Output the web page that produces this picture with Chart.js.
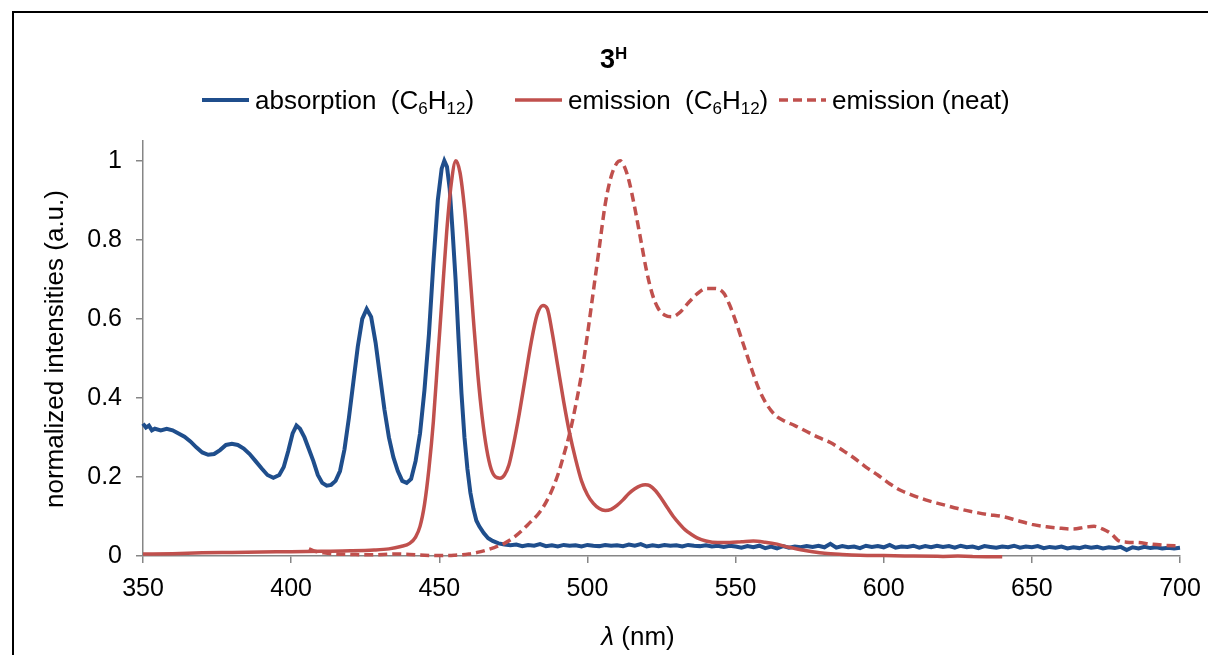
<!DOCTYPE html>
<html>
<head>
<meta charset="utf-8">
<title>3H spectra</title>
<script src="https://cdn.jsdelivr.net/npm/chart.js@4.4.1/dist/chart.umd.min.js"></script>
<style>
  html, body { margin: 0; padding: 0; background: #fff; }
  canvas { display: block; }
</style>
</head>
<body>
<canvas id="spectra" width="1208" height="655"></canvas>
<script>
// absorption in cyclohexane (nm, normalized)
const absX = [350, 351, 352, 353, 354, 356, 358, 360, 362, 364, 366, 368, 370, 372, 374, 376, 378, 380, 382, 384,
  386, 388, 390, 392, 394, 396, 397.5, 399, 400.5, 401.8, 403, 404.5, 406, 407.5, 409, 410.5, 412, 413.5, 415, 416.5,
  418, 419.5, 421, 422.5, 424, 425.5, 427, 428.5, 430, 431.5, 433, 434.5, 436, 437.5, 439, 440.5, 442, 443.5, 445, 446.5,
  448, 449.5, 450.8, 451.7, 452.6, 453.5, 454.5, 455.5, 456.5, 457.5, 458.5, 459.5, 460.5, 461.5, 462.5, 463.5, 465, 466.5, 468, 470,
  472, 474, 476, 478, 480, 482, 484, 486, 488, 490, 492, 494, 496, 498, 500, 502, 504, 506, 508, 510,
  512, 514, 516, 518, 520, 522, 524, 526, 528, 530, 532, 534, 536, 538, 540, 542, 544, 546, 548, 550,
  552, 554, 556, 558, 560, 562, 564, 566, 568, 570, 572, 574, 576, 578, 580, 582, 584, 586, 588, 590,
  592, 594, 596, 598, 600, 602, 604, 606, 608, 610, 612, 614, 616, 618, 620, 622, 624, 626, 628, 630,
  632, 634, 636, 638, 640, 642, 644, 646, 648, 650, 652, 654, 656, 658, 660, 662, 664, 666, 668, 670,
  672, 674, 676, 678, 680, 682, 684, 686, 688, 690, 692, 694, 696, 698, 700];
const absY = [0.335, 0.325, 0.33, 0.318, 0.322, 0.318, 0.322, 0.318, 0.31, 0.302, 0.29, 0.275, 0.262, 0.256, 0.258, 0.268, 0.281, 0.284, 0.281, 0.272,
  0.258, 0.24, 0.222, 0.205, 0.198, 0.205, 0.225, 0.265, 0.31, 0.33, 0.322, 0.3, 0.27, 0.24, 0.205, 0.185, 0.178, 0.18, 0.19, 0.215,
  0.27, 0.35, 0.44, 0.53, 0.6, 0.625, 0.605, 0.54, 0.455, 0.37, 0.3, 0.25, 0.215, 0.19, 0.185, 0.195, 0.24, 0.31, 0.42, 0.56,
  0.74, 0.9, 0.98, 1.0, 0.985, 0.93, 0.82, 0.7, 0.55, 0.41, 0.3, 0.22, 0.16, 0.12, 0.09, 0.075, 0.058, 0.045, 0.038, 0.032,
  0.029, 0.027, 0.029, 0.025, 0.028, 0.026, 0.03, 0.025, 0.027, 0.024, 0.028, 0.026, 0.027, 0.024, 0.028, 0.026, 0.025, 0.028, 0.026, 0.027,
  0.025, 0.029, 0.026, 0.03, 0.024, 0.027, 0.025, 0.028, 0.026, 0.027, 0.024, 0.028, 0.026, 0.025, 0.027, 0.024, 0.026, 0.023, 0.026, 0.024,
  0.021, 0.025, 0.022, 0.026, 0.02, 0.024, 0.019, 0.025, 0.021, 0.024, 0.022, 0.025, 0.023, 0.026, 0.022, 0.031, 0.021, 0.025, 0.022, 0.024,
  0.02, 0.026, 0.023, 0.025, 0.022, 0.028, 0.021, 0.024, 0.023, 0.026, 0.021, 0.025, 0.022, 0.026, 0.023, 0.025, 0.021, 0.026, 0.022, 0.024,
  0.02, 0.025, 0.023, 0.021, 0.024, 0.022, 0.026, 0.021, 0.024, 0.022, 0.025, 0.02, 0.023, 0.021, 0.024, 0.019, 0.022, 0.02, 0.024, 0.021,
  0.023, 0.019, 0.022, 0.02, 0.023, 0.015, 0.022, 0.019, 0.023, 0.02, 0.022, 0.019, 0.021, 0.019, 0.021];

// emission in cyclohexane
const emCX = [350, 360, 370, 380, 390, 400, 410, 420, 428, 433, 437, 440, 442, 443.5, 445, 446.5, 448, 449.5, 451, 452.5,
  454, 455.6, 457, 458.5, 460, 461.5, 463, 464.5, 466, 467.5, 469, 470.5, 472, 473.5, 475, 477, 479, 481, 483, 485,
  486.5, 488, 490, 492, 494, 496, 498, 500, 502, 504, 506, 508, 510, 512, 514, 516, 518, 519.5, 521, 523,
  525, 527, 529, 531, 533, 535, 537, 540, 544, 548, 552, 556, 560, 564, 568, 572, 576, 580, 586, 592,
  600, 610, 620, 630, 640];
const emCY = [0.005, 0.006, 0.008, 0.009, 0.01, 0.011, 0.012, 0.013, 0.015, 0.018, 0.024, 0.032, 0.048, 0.075, 0.13, 0.22, 0.34, 0.5, 0.66, 0.82,
  0.94, 1.0, 0.97, 0.88, 0.75, 0.6, 0.46, 0.35, 0.27, 0.22, 0.2, 0.197, 0.205, 0.23, 0.28, 0.36, 0.45, 0.54, 0.61, 0.634,
  0.625, 0.57, 0.48, 0.39, 0.31, 0.245, 0.19, 0.155, 0.133, 0.12, 0.115, 0.118, 0.128, 0.142, 0.158, 0.17, 0.178, 0.18, 0.178, 0.165,
  0.145, 0.122, 0.1, 0.082, 0.066, 0.055, 0.046, 0.038, 0.034, 0.034, 0.036, 0.038, 0.035, 0.03, 0.022, 0.016, 0.011, 0.007, 0.004, 0.002,
  0.001, 0.0, -0.001, -0.001, -0.002];

// emission of the neat sample
const emNX = [406, 408, 411, 415, 420, 427, 435, 440, 445, 450, 455, 460, 464, 468, 472, 476, 480, 484, 487, 490,
  492, 494, 496, 498, 500, 502, 504, 506, 508, 510, 511, 512.5, 514, 516, 518, 520, 522, 524, 526, 528.5,
  531, 534, 537, 540, 543, 546, 548, 550, 552, 554, 556, 558, 560, 562, 564, 567, 570, 574, 578, 582,
  586, 590, 594, 598, 602, 606, 610, 615, 620, 625, 630, 635, 640, 645, 650, 655, 660, 664, 668, 671,
  674, 677, 679, 682, 686, 690, 695, 700];
const emNY = [0.018, 0.012, 0.008, 0.005, 0.004, 0.003, 0.005, 0.004, 0.002, 0.001, 0.002, 0.005, 0.011, 0.02, 0.032, 0.052, 0.08, 0.112, 0.15, 0.205,
  0.255, 0.31, 0.38, 0.46, 0.56, 0.67, 0.78, 0.89, 0.96, 0.995, 1.0, 0.985, 0.95, 0.88, 0.8, 0.72, 0.66, 0.625, 0.61, 0.605,
  0.615, 0.64, 0.663, 0.677, 0.677, 0.665, 0.635, 0.595, 0.55, 0.505, 0.46, 0.42, 0.39, 0.368, 0.352, 0.34, 0.33, 0.315, 0.3, 0.287,
  0.268, 0.248, 0.225, 0.205, 0.183, 0.165, 0.153, 0.14, 0.13, 0.12, 0.112, 0.105, 0.1, 0.09, 0.08, 0.074, 0.07, 0.068, 0.073, 0.075,
  0.068, 0.055, 0.04, 0.035, 0.034, 0.03, 0.027, 0.025];

const xTicks = [350, 400, 450, 500, 550, 600, 650, 700];
const yTicks = [0, 0.2, 0.4, 0.6, 0.8, 1];
const yTickLabels = ["0", "0.2", "0.4", "0.6", "0.8", "1"];

const BLUE = "#1f4e8c";
const RED = "#c0504d";
const AXIS = "#868686";
const FONT = "'Liberation Sans', Arial, sans-serif";

function toPoints(xs, ys) {
    return xs.map((x, i) => ({ x: x, y: ys[i] }));
}

// draws text pieces: 0 = normal, -1 = subscript, 1 = superscript
function drawRich(ctx, x, y, parts, size, weight) {
    ctx.textBaseline = "alphabetic";
    ctx.textAlign = "left";
    for (const [txt, kind] of parts) {
        const s = kind === 0 ? size : Math.round(size * 0.64);
        const dy = kind === -1 ? size * 0.2 : kind === 1 ? -size * 0.34 : 0;
        ctx.font = `${weight || ""} ${s}px ${FONT}`;
        ctx.fillText(txt, x, y + dy);
        x += ctx.measureText(txt).width;
    }
    return x;
}

const legendItems = [
    { color: BLUE, width: 4, dash: [], x: 202, parts: [["absorption  (C", 0], ["6", -1], ["H", 0], ["12", -1], [")", 0]] },
    { color: RED, width: 3.5, dash: [], x: 515, parts: [["emission  (C", 0], ["6", -1], ["H", 0], ["12", -1], [")", 0]] },
    { color: RED, width: 3.5, dash: [9, 5], x: 779, parts: [["emission (neat)", 0]] },
];

const overlay = {
    id: "overlay",
    beforeDraw(chart) {
        const ctx = chart.ctx;
        ctx.save();
        ctx.fillStyle = "#fff";
        ctx.fillRect(0, 0, chart.width, chart.height);
        // outer chart frame (only top and left edges fall inside the picture)
        ctx.strokeStyle = "#000";
        ctx.lineWidth = 2;
        ctx.beginPath();
        ctx.moveTo(13, chart.height);
        ctx.lineTo(13, 12);
        ctx.lineTo(chart.width, 12);
        ctx.stroke();
        ctx.restore();
    },
    afterDraw(chart) {
        const ctx = chart.ctx;
        ctx.save();
        ctx.fillStyle = "#000";

        // title 3^H
        drawRich(ctx, 600, 68, [["3", 0], ["H", 1]], 27, "bold");

        // legend
        legendItems.forEach(item => {
            ctx.strokeStyle = item.color;
            ctx.lineWidth = item.width;
            ctx.setLineDash(item.dash);
            ctx.beginPath();
            ctx.moveTo(item.x, 100);
            ctx.lineTo(item.x + 47, 100);
            ctx.stroke();
            ctx.setLineDash([]);
            drawRich(ctx, item.x + 53, 109, item.parts, 26);
        });

        // y axis title
        ctx.save();
        ctx.translate(63, 349);
        ctx.rotate(-Math.PI / 2);
        ctx.font = `26px ${FONT}`;
        ctx.textAlign = "center";
        ctx.textBaseline = "alphabetic";
        ctx.fillText("normalized intensities (a.u.)", 0, 0);
        ctx.restore();

        // x axis title: italic lambda
        ctx.font = `italic 26px ${FONT}`;
        const lw = ctx.measureText("λ").width;
        ctx.font = `26px ${FONT}`;
        const rw = ctx.measureText(" (nm)").width;
        const sx = 638 - (lw + rw) / 2;
        ctx.font = `italic 26px ${FONT}`;
        ctx.textAlign = "left";
        ctx.textBaseline = "alphabetic";
        ctx.fillText("λ", sx, 645);
        ctx.font = `26px ${FONT}`;
        ctx.fillText(" (nm)", sx + lw, 645);

        ctx.restore();
    }
};

const ctx = document.getElementById("spectra").getContext("2d");
const chart = new Chart(ctx, {
    type: "line",
    data: {
        datasets: [
            {
                label: "absorption (C6H12)",
                data: toPoints(absX, absY),
                borderColor: BLUE,
                borderWidth: 4,
                tension: 0,
                order: 3,
            },
            {
                label: "emission (C6H12)",
                data: toPoints(emCX, emCY),
                borderColor: RED,
                borderWidth: 3.5,
                cubicInterpolationMode: "monotone",
                order: 1,
            },
            {
                label: "emission (neat)",
                data: toPoints(emNX, emNY),
                borderColor: RED,
                borderWidth: 3.5,
                borderDash: [9, 5],
                cubicInterpolationMode: "monotone",
                order: 2,
            },
        ],
    },
    options: {
        responsive: false,
        animation: false,
        devicePixelRatio: 1,
        clip: false,
        elements: { point: { radius: 0 } },
        layout: { padding: { top: 141, right: 28, left: 0, bottom: 0 } },
        plugins: {
            legend: { display: false },
            title: { display: false },
            tooltip: { enabled: false },
        },
        scales: {
            x: {
                type: "linear",
                min: 350,
                max: 700,
                afterBuildTicks: (scale) => { scale.ticks = xTicks.map(v => ({ value: v })); },
                afterFit: (scale) => {
                    scale.height = 99;
                    scale.paddingLeft = 0;
                    scale.paddingRight = 0;
                },
                grid: { drawOnChartArea: false, drawTicks: true, tickLength: 7, color: AXIS, lineWidth: 1.5 },
                border: { display: true, color: AXIS, width: 1.5 },
                ticks: {
                    color: "#000",
                    padding: 11,
                    font: { family: FONT, size: 25 },
                    maxRotation: 0,
                    callback: (v) => String(v),
                },
            },
            y: {
                type: "linear",
                min: 0,
                max: 1.05,
                afterBuildTicks: (scale) => { scale.ticks = yTicks.map(v => ({ value: v })); },
                afterFit: (scale) => {
                    scale.width = 143;
                    scale.paddingTop = 0;
                    scale.paddingBottom = 0;
                },
                grid: { drawOnChartArea: false, drawTicks: true, tickLength: 7, color: AXIS, lineWidth: 1.5 },
                border: { display: true, color: AXIS, width: 1.5 },
                ticks: {
                    color: "#000",
                    padding: 14,
                    font: { family: FONT, size: 25 },
                    callback: (v) => yTickLabels[yTicks.indexOf(v)] ?? "",
                },
            },
        },
    },
    plugins: [overlay],
});
</script>
</body>
</html>
